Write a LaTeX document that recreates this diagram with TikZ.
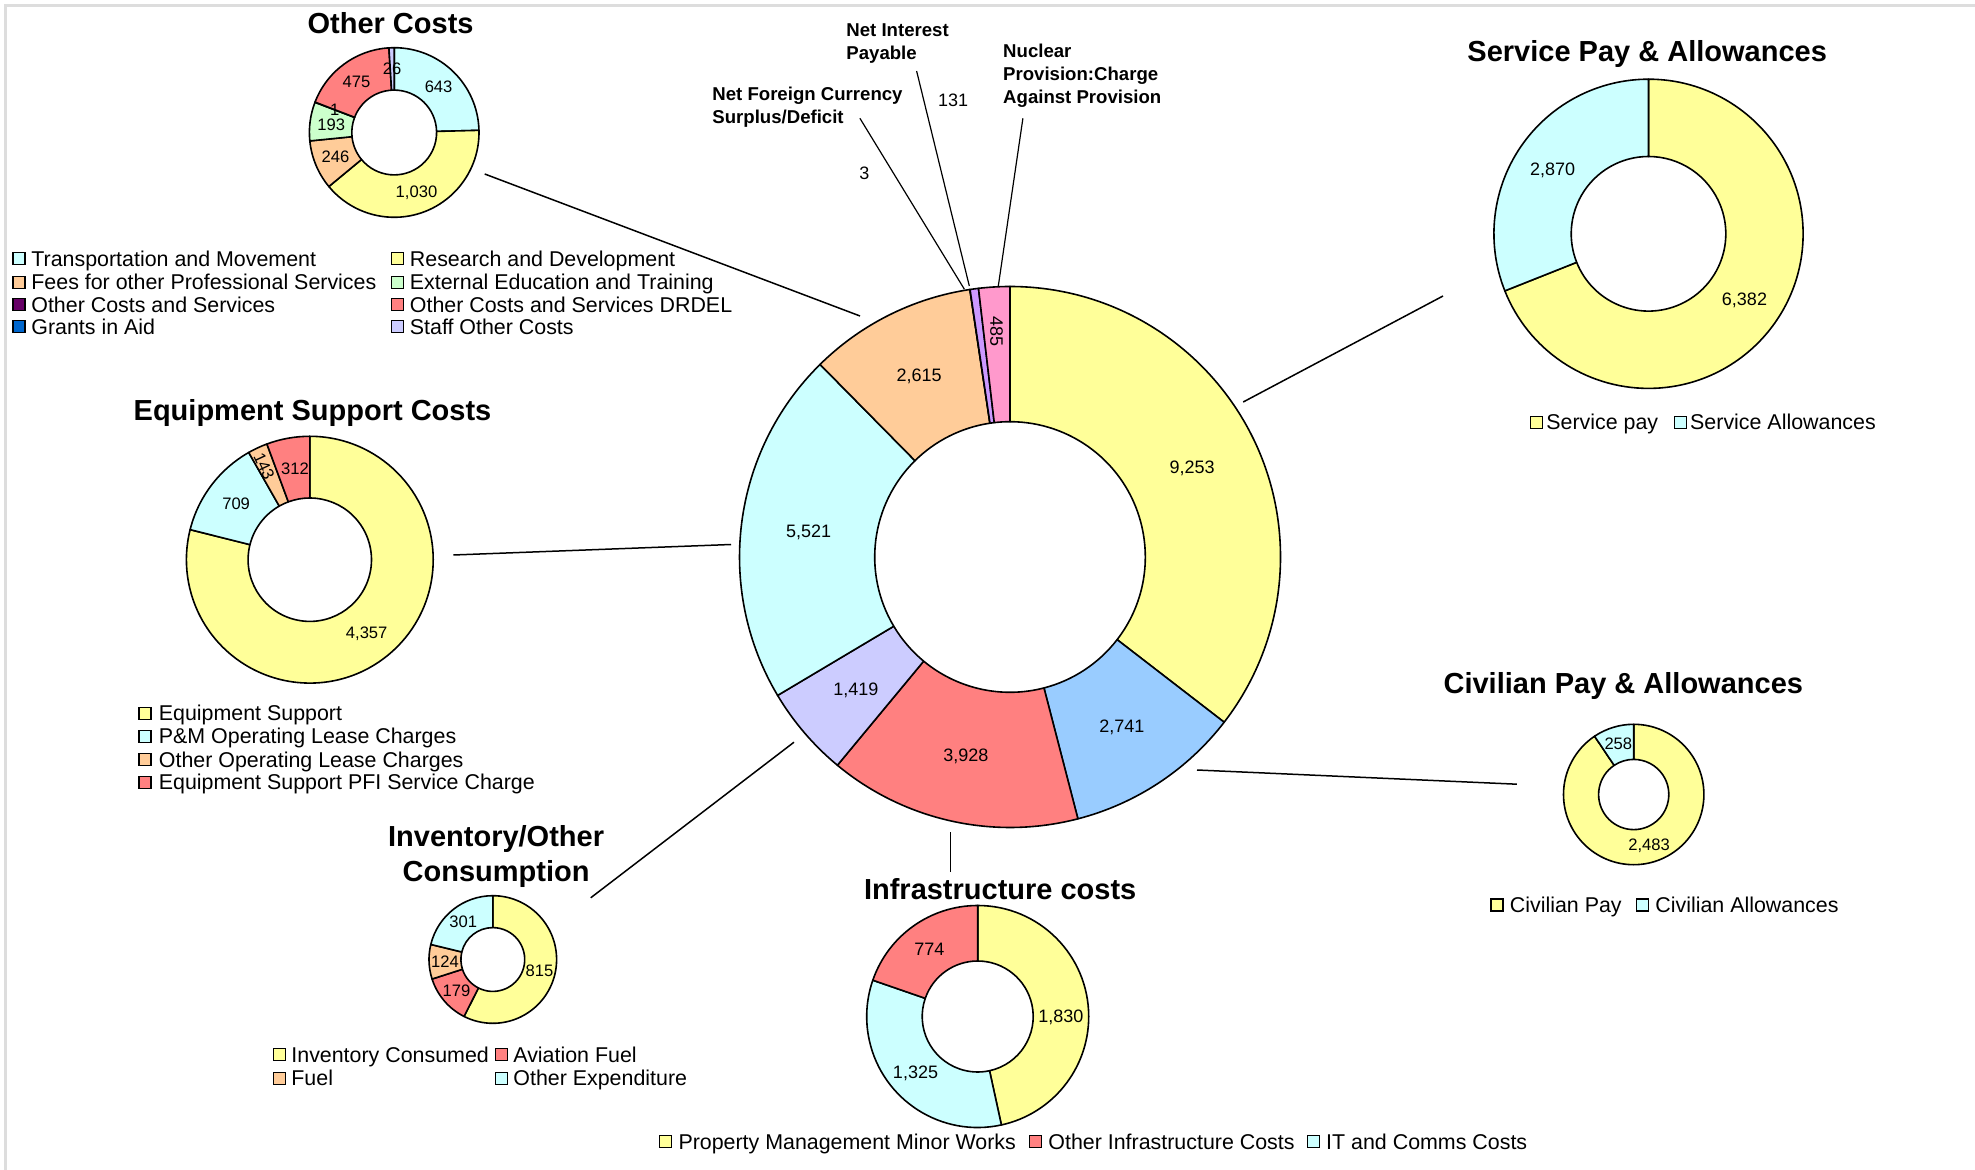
\documentclass[tikz,border=0pt]{standalone}
\usepackage{fontspec}
\setmainfont{Liberation Sans}
\usepackage{tikz}
\usetikzlibrary{positioning}

\definecolor{cYellow}{HTML}{FFFF99}
\definecolor{cCyan}{HTML}{CCFFFF}
\definecolor{cPeach}{HTML}{FFCC99}
\definecolor{cSalmon}{HTML}{FF8080}
\definecolor{cLavender}{HTML}{CCCCFF}
\definecolor{cBlue}{HTML}{99CCFF}
\definecolor{cPurple}{HTML}{CC99FF}
\definecolor{cPink}{HTML}{FF99CC}
\definecolor{cGreen}{HTML}{CCFFCC}
\definecolor{cPlum}{HTML}{660066}
\definecolor{cGrant}{HTML}{0066CC}
\definecolor{cFrame}{HTML}{DDDDDD}

\begin{document}
\begin{tikzpicture}[
    x=0.5pt, y=0.5pt,
    slice/.style={draw=black, line width=0.8pt, line join=round},
    link/.style={draw=black, line width=0.75pt},
    leader/.style={draw=black, line width=0.6pt},
    charttitle/.style={font=\fontsize{14.5}{17.5}\selectfont\bfseries, inner sep=0pt, anchor=base},
    netlabel/.style={font=\fontsize{9.3}{11.65}\selectfont\bfseries, inner sep=0pt, anchor=north west, align=left},
    val/.style={font=\fontsize{9}{10}\selectfont, inner sep=0pt, text height=6.4pt, text depth=0pt},
    smallval/.style={font=\fontsize{8.3}{9}\selectfont, inner sep=0pt, text height=5.9pt, text depth=0pt},
    legbox/.style={draw=black, line width=0.6pt, minimum size=6pt, inner sep=0pt},
    legtext/.style={font=\fontsize{10.7}{12}\selectfont, inner sep=0pt, anchor=west, text height=7.6pt, text depth=0pt}
]

\useasboundingbox (0,0) rectangle (1975,-1170);

% Sheet frame
\draw[cFrame, line width=1.5pt] (5,-1170) -- (5,-6) -- (1975,-6);

% Main donut
\begin{scope}[shift={(1010,-557)}]
  \foreach \a/\b/\col in {90/-37.65/cYellow, -37.65/-75.46/cBlue, -75.46/-129.65/cSalmon, -129.65/-149.22/cLavender, -149.22/-225.39/cCyan, -225.39/-261.46/cPeach, -261.46/-261.50/cLavender, -261.50/-263.31/cPurple, -263.31/-270/cPink}
    \draw[slice, fill=\col] (\a:270.5) arc[start angle=\a, end angle=\b, radius=270.5] -- (\b:135.3) arc[start angle=\b, end angle=\a, radius=135.3] -- cycle;
  \foreach \m/\txt [count=\i] in {26.18/{9,253}, -56.55/{2,741}, -102.55/{3,928}, -139.44/{1,419}, 172.70/{5,521}, 116.58/{2,615}}
    \node[val] (mainVal\i) at (\m:203) {\txt};
  \node[val, rotate=-90] (mainVal7) at (93.35:226) {485};
\end{scope}

% Small slices of the main donut - labels and leaders
\node[val] (fxVal) at (864.4,-172.7) {3};
\node[val] (intVal) at (953.2,-100) {131};
\node[netlabel] (fxName) at (712,-86.3) {Net Foreign Currency\\Surplus/Deficit};
\node[netlabel] (intName) at (846,-23.2) {Net Interest\\Payable};
\node[netlabel] (nucName) at (1002.8,-43.2) {Nuclear\\Provision:Charge\\Against Provision};
\coordinate (fxFoot) at (859.9,-118.3);
\coordinate (fxTip) at (964.4,-289.3);
\coordinate (intFoot) at (916.6,-71);
\coordinate (intTip) at (969.3,-286);
\coordinate (nucFoot) at (1022.9,-118.3);
\coordinate (nucTip) at (998.3,-286);
\draw[leader] (fxFoot) -- (fxTip);
\draw[leader] (intFoot) -- (intTip);
\draw[leader] (nucFoot) -- (nucTip);

% Other Costs
\node[charttitle] (ocTitle) at (390.6,-33.6) {Other Costs};
\begin{scope}[shift={(394.2,-132.5)}]
  \foreach \a/\b/\col in {90/1.45/cCyan, 1.45/-140.41/cYellow, -140.41/-174.29/cPeach, -174.29/-200.87/cGreen, -200.87/-201.00/cPlum, -201.00/-266.42/cSalmon, -266.42/-270/cLavender}
    \draw[slice, fill=\col] (\a:84.8) arc[start angle=\a, end angle=\b, radius=84.8] -- (\b:42.4) arc[start angle=\b, end angle=\a, radius=42.4] -- cycle;
  \foreach \m/\txt [count=\i] in {45.72/643, -69.48/{1,030}, -157.35/246, -187.58/193, 159.07/1, 126.29/475, 91.8/26}
    \node[smallval] (ocVal\i) at (\m:63.6) {\txt};
\end{scope}
\foreach \x/\y/\col/\txt [count=\i] in {19/258.7/cCyan/Transportation and Movement, 397.5/258.7/cYellow/Research and Development, 19/282.2/cPeach/Fees for other Professional Services, 397.5/282.2/cGreen/External Education and Training, 19/304.5/cPlum/Other Costs and Services, 397.5/304.5/cSalmon/Other Costs and Services DRDEL, 19/326.5/cGrant/Grants in Aid, 397.5/326.5/cLavender/Staff Other Costs}
{
  \node[legbox, fill=\col] (ocBox\i) at (\x,-\y) {};
  \node[legtext] (ocKey\i) at (\x+12,-\y) {\txt};
}

% Service Pay & Allowances
\node[charttitle] (spTitle) at (1647.2,-61.7) {Service Pay \& Allowances};
\begin{scope}[shift={(1648.5,-233.8)}]
  \foreach \a/\b/\col in {90/-158.33/cYellow, -158.33/-270/cCyan}
    \draw[slice, fill=\col] (\a:154.6) arc[start angle=\a, end angle=\b, radius=154.6] -- (\b:77.3) arc[start angle=\b, end angle=\a, radius=77.3] -- cycle;
  \node[val] (spVal1) at (-34.17:116) {6,382};
  \node[val] (spVal2) at (145.83:116) {2,870};
\end{scope}
\foreach \x/\col/\txt [count=\i] in {1536.5/cYellow/Service pay, 1680.3/cCyan/Service Allowances}
{
  \node[legbox, fill=\col] (spBox\i) at (\x,-422.3) {};
  \node[legtext] (spKey\i) at (\x+9.5,-422.3) {\txt};
}

% Equipment Support Costs
\node[charttitle] (esTitle) at (312.5,-420.7) {Equipment Support Costs};
\begin{scope}[shift={(309.8,-559.7)}]
  \foreach \a/\b/\col in {90/-194.10/cYellow, -194.10/-240.33/cCyan, -240.33/-249.65/cPeach, -249.65/-270/cSalmon}
    \draw[slice, fill=\col] (\a:123.4) arc[start angle=\a, end angle=\b, radius=123.4] -- (\b:61.7) arc[start angle=\b, end angle=\a, radius=61.7] -- cycle;
  \node[smallval] (esVal1) at (-52.05:92.5) {4,357};
  \node[smallval] (esVal2) at (142.8:92.5) {709};
  \node[smallval, rotate=-65] (esVal3) at (116:104) {143};
  \node[smallval] (esVal4) at (99.2:92.5) {312};
\end{scope}
\foreach \y/\col/\txt [count=\i] in {713.3/cYellow/Equipment Support, 736.3/cCyan/P\&M Operating Lease Charges, 759.8/cPeach/Other Operating Lease Charges, 782.3/cSalmon/Equipment Support PFI Service Charge}
{
  \node[legbox, fill=\col] (esBox\i) at (145,-\y) {};
  \node[legtext] (esKey\i) at (158.5,-\y) {\txt};
}

% Civilian Pay & Allowances
\node[charttitle] (cpTitle) at (1623.3,-693.3) {Civilian Pay \& Allowances};
\begin{scope}[shift={(1633.7,-794.5)}]
  \foreach \a/\b/\col in {90/-236.11/cYellow, -236.11/-270/cCyan}
    \draw[slice, fill=\col] (\a:70.2) arc[start angle=\a, end angle=\b, radius=70.2] -- (\b:35.1) arc[start angle=\b, end angle=\a, radius=35.1] -- cycle;
  \node[smallval] (cpVal1) at (-73.06:52.7) {2,483};
  \node[smallval] (cpVal2) at (106.94:52.7) {258};
\end{scope}
\foreach \x/\col/\txt [count=\i] in {1497/cYellow/Civilian Pay, 1642.5/cCyan/Civilian Allowances}
{
  \node[legbox, fill=\col] (cpBox\i) at (\x,-905) {};
  \node[legtext] (cpKey\i) at (\x+12.5,-905) {\txt};
}

% Inventory/Other Consumption
\node[charttitle, anchor=north, align=center] (ioTitle) at (496.1,-825.5) {Inventory/Other\\Consumption};
\begin{scope}[shift={(492.8,-959.5)}]
  \foreach \a/\b/\col in {90/-116.77/cYellow, -116.77/-162.18/cSalmon, -162.18/-193.64/cPeach, -193.64/-270/cCyan}
    \draw[slice, fill=\col] (\a:63.8) arc[start angle=\a, end angle=\b, radius=63.8] -- (\b:31.9) arc[start angle=\b, end angle=\a, radius=31.9] -- cycle;
  \foreach \m/\txt [count=\i] in {-13.38/815, -139.47/179, -177.91/124, 128.18/301}
    \node[smallval] (ioVal\i) at (\m:47.9) {\txt};
\end{scope}
\foreach \x/\y/\col/\txt [count=\i] in {279.7/1054.7/cYellow/Inventory Consumed, 501.7/1054.7/cSalmon/Aviation Fuel, 279.7/1078.3/cPeach/Fuel, 501.7/1078.3/cCyan/Other Expenditure}
{
  \node[legbox, fill=\col] (ioBox\i) at (\x,-\y) {};
  \node[legtext] (ioKey\i) at (\x+11.3,-\y) {\txt};
}

% Infrastructure costs
\node[charttitle] (icTitle) at (1000.2,-899.3) {Infrastructure costs};
\begin{scope}[shift={(977.7,-1016.5)}]
  \foreach \a/\b/\col in {90/-77.68/cYellow, -77.68/-199.08/cCyan, -199.08/-270/cSalmon}
    \draw[slice, fill=\col] (\a:111) arc[start angle=\a, end angle=\b, radius=111] -- (\b:55.5) arc[start angle=\b, end angle=\a, radius=55.5] -- cycle;
  \node[val] (icVal1) at (0:83.2) {1,830};
  \node[val] (icVal2) at (-138.38:83.2) {1,325};
  \node[val] (icVal3) at (125.46:83.2) {774};
\end{scope}
\foreach \x/\col/\txt [count=\i] in {665.7/cYellow/Property Management Minor Works, 1035.6/cSalmon/Other Infrastructure Costs, 1313.4/cCyan/IT and Comms Costs}
{
  \node[legbox, fill=\col] (icBox\i) at (\x,-1141.5) {};
  \node[legtext] (icKey\i) at (\x+12.4,-1141.5) {\txt};
}

% Links from the main donut to each breakdown
\coordinate (ocLink) at (484.7,-174);
\coordinate (mainToOC) at (860,-316);
\coordinate (spLink) at (1443,-296);
\coordinate (mainToSP) at (1243.2,-402);
\coordinate (esLink) at (453.3,-555);
\coordinate (mainToES) at (731,-544.5);
\coordinate (cpLink) at (1516.8,-784.2);
\coordinate (mainToCP) at (1197,-770);
\coordinate (ioLink) at (590.7,-897.8);
\coordinate (mainToIO) at (794,-742.2);
\coordinate (icLink) at (950.3,-872);
\coordinate (mainToIC) at (950.3,-832);
\draw[link] (ocLink) -- (mainToOC);
\draw[link] (spLink) -- (mainToSP);
\draw[link] (esLink) -- (mainToES);
\draw[link] (cpLink) -- (mainToCP);
\draw[link] (ioLink) -- (mainToIO);
\draw[link] (icLink) -- (mainToIC);

\end{tikzpicture}
\end{document}
